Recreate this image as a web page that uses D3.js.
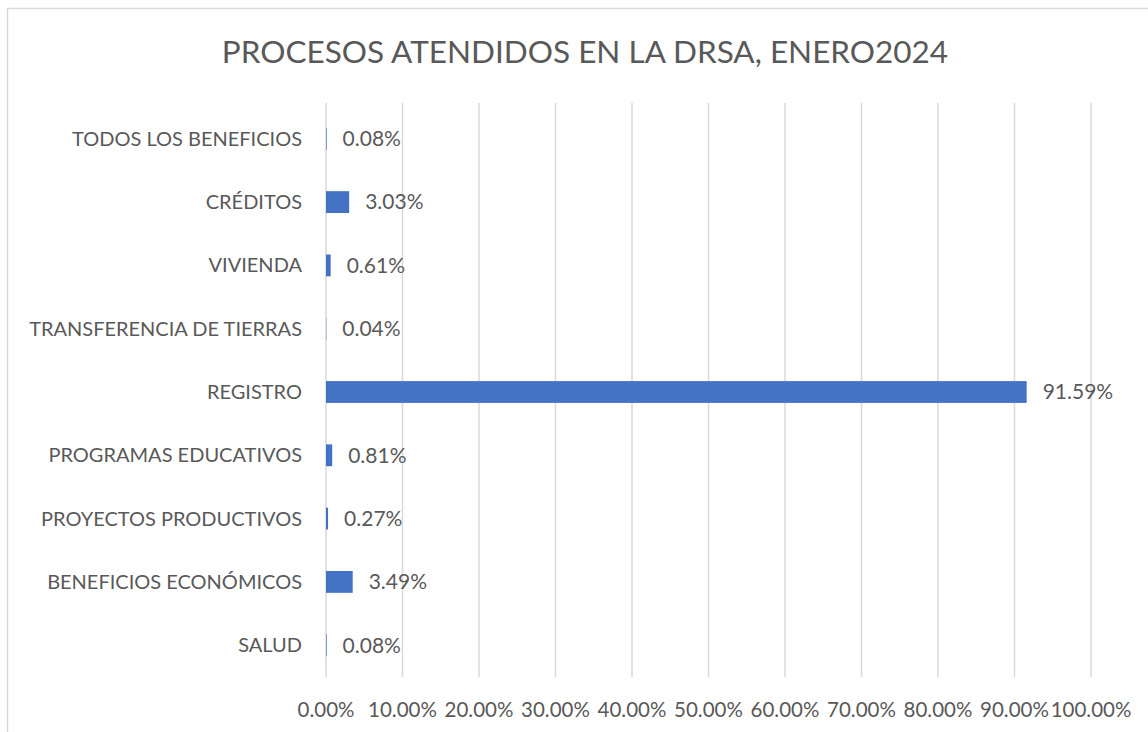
<!DOCTYPE html>
<html>
<head>
<meta charset="utf-8">
<script src="https://cdn.jsdelivr.net/npm/d3@7"></script>
<style>
  html, body { margin: 0; padding: 0; background: #fff; }
  svg { display: block; }
  text { font-family: Lato, "Open Sans", sans-serif; fill: #595959; }
</style>
</head>
<body>
<svg id="chart" width="1148" height="732"></svg>
<script>
(function() {
  'use strict';

  var categories = [
    "TODOS LOS BENEFICIOS",
    "CRÉDITOS",
    "VIVIENDA",
    "TRANSFERENCIA DE TIERRAS",
    "REGISTRO",
    "PROGRAMAS EDUCATIVOS",
    "PROYECTOS PRODUCTIVOS",
    "BENEFICIOS ECONÓMICOS",
    "SALUD"
  ];
  var values = [0.0008, 0.0303, 0.0061, 0.0004, 0.9159, 0.0081, 0.0027, 0.0349, 0.0008];
  var ticks = [0, 0.1, 0.2, 0.3, 0.4, 0.5, 0.6, 0.7, 0.8, 0.9, 1.0];
  var title = "PROCESOS ATENDIDOS EN LA DRSA, ENERO2024";

  var svg = d3.select("#chart");
  var plot = { left: 326, right: 1091, top: 107, bottom: 677 };

  // chart frame (cut off on the right and bottom)
  svg.append("rect")
    .attr("x", 7.5).attr("y", 8.5)
    .attr("width", 1200).attr("height", 800)
    .attr("fill", "none")
    .attr("stroke", "#d9d9d9")
    .attr("stroke-width", 1.5);

  svg.append("text")
    .attr("x", 585).attr("y", 52)
    .attr("dy", "0.35em")
    .attr("text-anchor", "middle")
    .style("font-size", "31.5px")
    .text(title);

  var x = d3.scaleLinear().domain([0, 1]).range([plot.left, plot.right]);
  var y = d3.scaleBand().domain(categories)
    .range([plot.top, plot.bottom]).paddingInner(0.655).paddingOuter(0.33);

  // gridlines
  svg.append("g").selectAll("line")
    .data(ticks).enter().append("line")
    .attr("x1", function(d) { return x(d); })
    .attr("x2", function(d) { return x(d); })
    .attr("y1", 103).attr("y2", plot.bottom)
    .attr("stroke", "#d9d9d9")
    .attr("stroke-width", 1.5);

  // x tick labels
  svg.append("g").selectAll("text")
    .data(ticks).enter().append("text")
    .attr("x", function(d) { return x(d); })
    .attr("y", 710)
    .attr("dy", "0.35em")
    .attr("text-anchor", "middle")
    .style("font-size", "20.5px")
    .text(function(d) { return (d * 100).toFixed(2) + "%"; });

  // category labels
  svg.append("g").selectAll("text")
    .data(categories).enter().append("text")
    .attr("x", 302)
    .attr("y", function(d) { return y(d) + y.bandwidth() / 2; })
    .attr("dy", "0.35em")
    .attr("text-anchor", "end")
    .style("font-size", "20px")
    .text(function(d) { return d; });

  // bars
  svg.append("g").selectAll("rect")
    .data(values).enter().append("rect")
    .attr("x", x(0))
    .attr("y", function(d, i) { return y(categories[i]); })
    .attr("width", function(d) { return x(d) - x(0); })
    .attr("height", y.bandwidth())
    .attr("fill", "#4472c4");

  // value labels
  svg.append("g").selectAll("text")
    .data(values).enter().append("text")
    .attr("x", function(d) { return x(d) + 16; })
    .attr("y", function(d, i) { return y(categories[i]) + y.bandwidth() / 2; })
    .attr("dy", "0.35em")
    .style("font-size", "21px")
    .text(function(d) { return (d * 100).toFixed(2) + "%"; });
}());
</script>
</body>
</html>
